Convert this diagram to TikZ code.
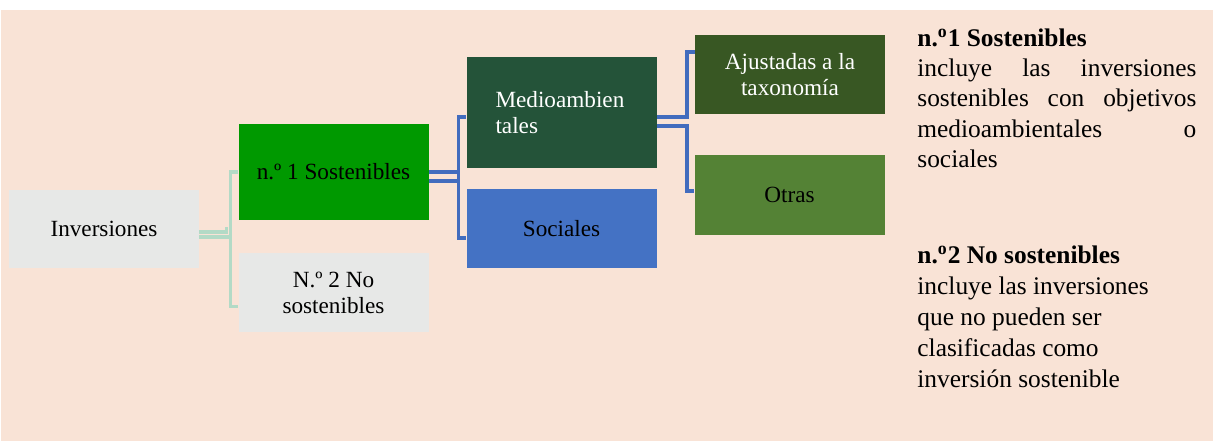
\documentclass[tikz,border=0pt]{standalone}
\usepackage{fontspec}
\setmainfont{Liberation Serif}
\usetikzlibrary{positioning}
\definecolor{peach}{RGB}{249,227,214}
\definecolor{boxgray}{RGB}{231,232,231}
\definecolor{sostgreen}{RGB}{0,153,0}
\definecolor{mediogreen}{RGB}{36,83,57}
\definecolor{socblue}{RGB}{68,114,196}
\definecolor{ajusgreen}{RGB}{56,87,35}
\definecolor{otrasgreen}{RGB}{84,130,53}
\definecolor{linkgreen}{RGB}{179,218,198}
\definecolor{linkblue}{RGB}{66,108,190}

\begin{document}
\begin{tikzpicture}[x=0.5pt,y=-0.5pt,
  box/.style={rectangle, inner sep=0pt, minimum width=95pt, align=center, font=\fontsize{11.6}{13}\selectfont},
  greenlink/.style={draw=linkgreen, line width=1.6pt},
  bluelink/.style={draw=linkblue, line width=1.6pt},
  note/.style={anchor=north west, inner sep=0pt, align=left}]
			\useasboundingbox (0,0) rectangle (1213,441);
			\fill[peach] (1,10) rectangle (1213,441);
			\node[box, fill=boxgray, minimum height=39pt] (inv) at (104,229) {Inversiones};
			\node[box, fill=sostgreen, minimum height=48pt] (sost) at (333.5,172) {n.º 1 Sostenibles};
			\node[box, fill=boxgray, minimum height=39.5pt] (nosost) at (333.5,292.5) {N.º 2 No\\sostenibles};
			\node[box, fill=mediogreen, text=white, minimum height=55.5pt, text width=66pt, inner xsep=14.5pt, align=left] (medio) at (561.5,112.5) {Medioambien\\tales};
			\node[box, fill=socblue, minimum height=39.5pt] (soc) at (561.5,228.5) {Sociales};
			\node[box, fill=ajusgreen, text=white, minimum height=39.5pt] (ajus) at (790,74.5) {Ajustadas a la\\taxonomía};
			\node[box, fill=otrasgreen, minimum height=40pt] (otras) at (789.5,195) {Otras};
			\draw[greenlink] ([yshift=-1.5pt]inv.east) -- ++(27,0) -- ++(0,-5);
			\draw[greenlink] ([yshift=-4pt]inv.east) -- ++(31,0);
			\draw[greenlink] (sost.west) -- ++(-8,0) |- ([yshift=-7pt]nosost.west);
			\draw[bluelink] (sost.east) -- ++(29,0);
			\draw[bluelink] ([yshift=-4.5pt]sost.east) -- ++(29,0);
			\draw[bluelink] ([yshift=-2.25pt]medio.west) -- ++(-8,0) |- ([yshift=-4.75pt]soc.west);
			\draw[bluelink] ([yshift=-2.25pt]medio.east) -- ++(30,0) |- ([yshift=11.25pt]ajus.west);
			\draw[bluelink] ([yshift=-6.75pt]medio.east) -- ++(30,0) |- ([yshift=2pt]otras.west);
			\node[note, font=\fontsize{12.7}{15.2}\selectfont] (note1) at (917,28) {\textbf{n.\textsuperscript{o}1 Sostenibles}\\
				\hbox to 139.5pt{incluye\hfill las\hfill inversiones}\\
				\hbox to 139.5pt{sostenibles\hfill con\hfill objetivos}\\
				\hbox to 139.5pt{medioambientales\hfill o}\\
				sociales};
			\node[note, font=\fontsize{12.7}{15.6}\selectfont] (note2) at (917,245) {\textbf{n.\textsuperscript{o}2 No sostenibles}\\
				incluye las inversiones\\
				que no pueden ser\\
				clasificadas como\\
				inversión sostenible};
\end{tikzpicture}
\end{document}
